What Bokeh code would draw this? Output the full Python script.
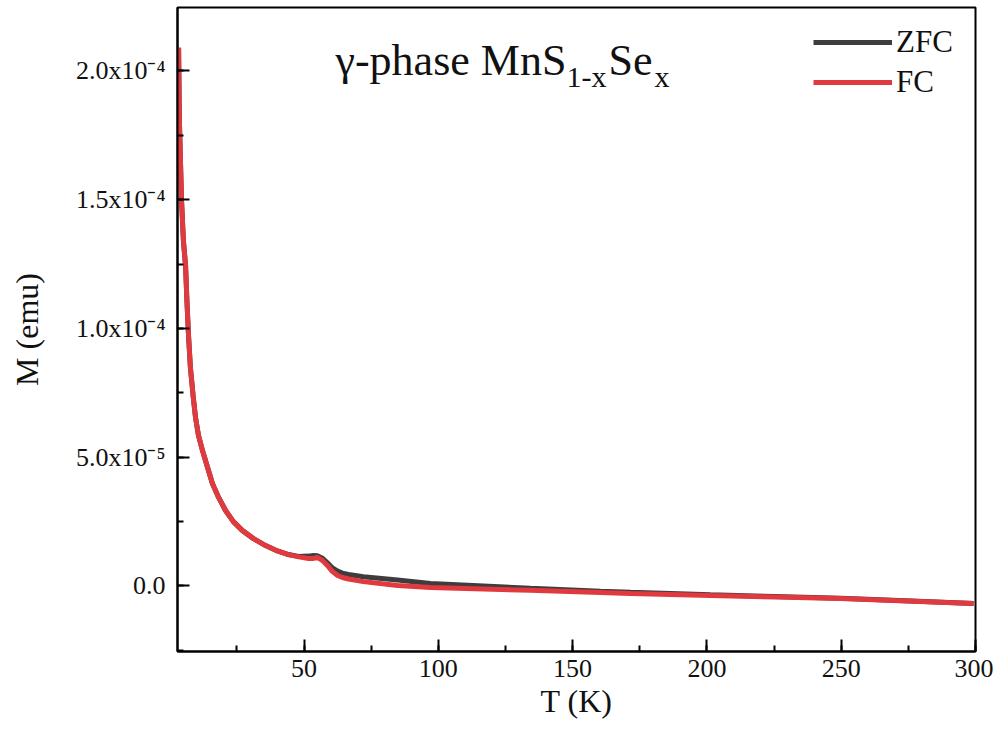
from bokeh.plotting import figure
from bokeh.models import (Range1d, SingleIntervalTicker, CustomJSTickFormatter,
                          Label, Legend, LegendItem)
from bokeh.embed import file_html
from bokeh.resources import INLINE

# ---- data ----
T_fc = [3.3, 3.6, 4.4, 5.1, 5.9, 6.4, 7.0, 7.7, 8.7, 9.6, 10.7, 12.2, 14.1, 15.9,
        18.2, 20.8, 23.7, 27.1, 31.2, 35.7, 40.1, 44.2, 48.0, 51.7, 53.5, 55.0,
        56.9, 58.7, 60.6, 62.5, 64.3, 66.6, 72.1, 84.8, 97.1, 134.3, 160.4,
        171.6, 201.3, 225.5, 249.7, 274.0, 299.3]
M_fc = [2.09e-4, 1.808e-4, 1.497e-4, 1.34e-4, 1.245e-4, 1.109e-4, 9.73e-5, 8.49e-5,
        7.4e-5, 6.55e-5, 5.85e-5, 5.26e-5, 4.6e-5, 3.98e-5, 3.44e-5, 2.93e-5,
        2.5e-5, 2.15e-5, 1.84e-5, 1.57e-5, 1.36e-5, 1.22e-5, 1.13e-5, 1.07e-5,
        1.07e-5, 1.11e-5, 9.9e-6, 8.0e-6, 5.6e-6, 4.1e-6, 3.3e-6, 2.7e-6, 1.7e-6,
        2.0e-7, -6.0e-7, -1.7e-6, -2.5e-6, -2.9e-6, -3.7e-6, -4.3e-6, -4.9e-6,
        -5.8e-6, -6.8e-6]

T_zfc = [3.3, 3.6, 4.4, 5.1, 5.9, 6.4, 7.0, 7.7, 8.7, 9.6, 10.7, 12.2, 14.1, 15.9,
         18.2, 20.8, 23.7, 27.1, 31.2, 35.7, 40.1, 44.2, 48.0, 51.7, 53.5, 55.0,
         56.9, 58.7, 60.6, 62.5, 64.3, 66.6, 72.1, 84.8, 97.1, 134.3, 160.4,
         171.6, 201.3, 225.5, 249.7, 274.0, 299.3]
M_zfc = [2.09e-4, 1.808e-4, 1.497e-4, 1.34e-4, 1.245e-4, 1.109e-4, 9.73e-5, 8.49e-5,
         7.4e-5, 6.55e-5, 5.85e-5, 5.26e-5, 4.6e-5, 3.98e-5, 3.44e-5, 2.93e-5,
         2.5e-5, 2.15e-5, 1.84e-5, 1.57e-5, 1.36e-5, 1.22e-5, 1.15e-5, 1.16e-5,
         1.18e-5, 1.17e-5, 1.08e-5, 9.0e-6, 7.0e-6, 5.8e-6, 5.0e-6, 4.5e-6, 3.6e-6,
         2.3e-6, 1.0e-6, -9.0e-7, -2.0e-6, -2.4e-6, -3.4e-6, -4.1e-6, -4.8e-6,
         -5.7e-6, -6.8e-6]

y_ticks = [0.0, 5e-5, 1e-4, 1.5e-4, 2e-4]
y_tick_labels = ["0.0", "5.0x10\u207b\u2075", "1.0x10\u207b\u2074",
                 "1.5x10\u207b\u2074", "2.0x10\u207b\u2074"]

series_names = ["ZFC", "FC"]
series_colors = ["#3d3d3d", "#e0393e"]

FONT = "Liberation Serif"

p = figure(width=993, height=739, output_backend="svg", toolbar_location=None,
           x_range=Range1d(2.9, 300), y_range=Range1d(-2.544e-5, 2.2466e-4),
           min_border_left=177, min_border_right=18, min_border_top=7,
           min_border_bottom=88)
p.background_fill_color = "white"
p.border_fill_color = "white"
p.grid.visible = False
p.outline_line_color = "black"
p.outline_line_width = 2
p.outline_line_alpha = 1.0

r_zfc = p.line(T_zfc, M_zfc, line_color=series_colors[0], line_width=5)
r_fc = p.line(T_fc, M_fc, line_color=series_colors[1], line_width=5)

# axes
p.xaxis.ticker = SingleIntervalTicker(interval=50, num_minor_ticks=2)
p.yaxis.ticker = SingleIntervalTicker(interval=5e-5, num_minor_ticks=2)
p.yaxis.formatter = CustomJSTickFormatter(
    args=dict(tvals=y_ticks, tlabels=y_tick_labels),
    code="""
for (let i = 0; i < tvals.length; i++) {
  if (Math.abs(tick - tvals[i]) < 1e-12) { return tlabels[i]; }
}
return "";
""")
for ax in (p.xaxis[0], p.yaxis[0]):
    ax.axis_line_width = 2
    ax.axis_line_color = "black"
    ax.major_tick_in = 12
    ax.major_tick_out = 0
    ax.minor_tick_in = 6
    ax.minor_tick_out = 0
    ax.major_tick_line_width = 2
    ax.minor_tick_line_width = 2
    ax.major_tick_line_color = "black"
    ax.minor_tick_line_color = "black"
    ax.major_label_text_font = FONT
    ax.major_label_text_font_size = "26px"
    ax.major_label_text_color = "#111111"
    ax.axis_label_text_font = FONT
    ax.axis_label_text_font_size = "32px"
    ax.axis_label_text_font_style = "normal"
    ax.axis_label_text_color = "#111111"

p.xaxis.axis_label = "T (K)"
p.yaxis.axis_label = "M (emu)"
p.xaxis.major_label_standoff = 8
p.xaxis.axis_label_standoff = 3
p.yaxis.major_label_standoff = 12
p.yaxis.axis_label_standoff = 28

# legend
legend = Legend(items=[LegendItem(label=series_names[0], renderers=[r_zfc]),
                       LegendItem(label=series_names[1], renderers=[r_fc])],
                location=(636, 549), orientation="vertical")
legend.background_fill_alpha = 0
legend.border_line_alpha = 0
legend.padding = 0
legend.margin = 0
legend.spacing = 0
legend.glyph_width = 79
legend.glyph_height = 40
legend.label_height = 40
legend.label_standoff = 4
legend.label_text_font = FONT
legend.label_text_font_size = "31px"
legend.label_text_color = "#111111"
p.add_layout(legend)

# title with subscripts
title_parts = [("\u03b3-phase MnS", 158, 591, "44px"),
               ("1-x", 389, 575, "30px"),
               ("Se", 431, 591, "44px"),
               ("x", 477, 575, "30px")]
for txt, sx, sy, fs in title_parts:
    p.add_layout(Label(x=sx, y=sy, x_units="screen", y_units="screen", text=txt,
                       text_font=FONT, text_font_size=fs, text_color="#111111",
                       text_baseline="alphabetic", text_align="left"))

open("out.html", "w").write(file_html(p, INLINE))
